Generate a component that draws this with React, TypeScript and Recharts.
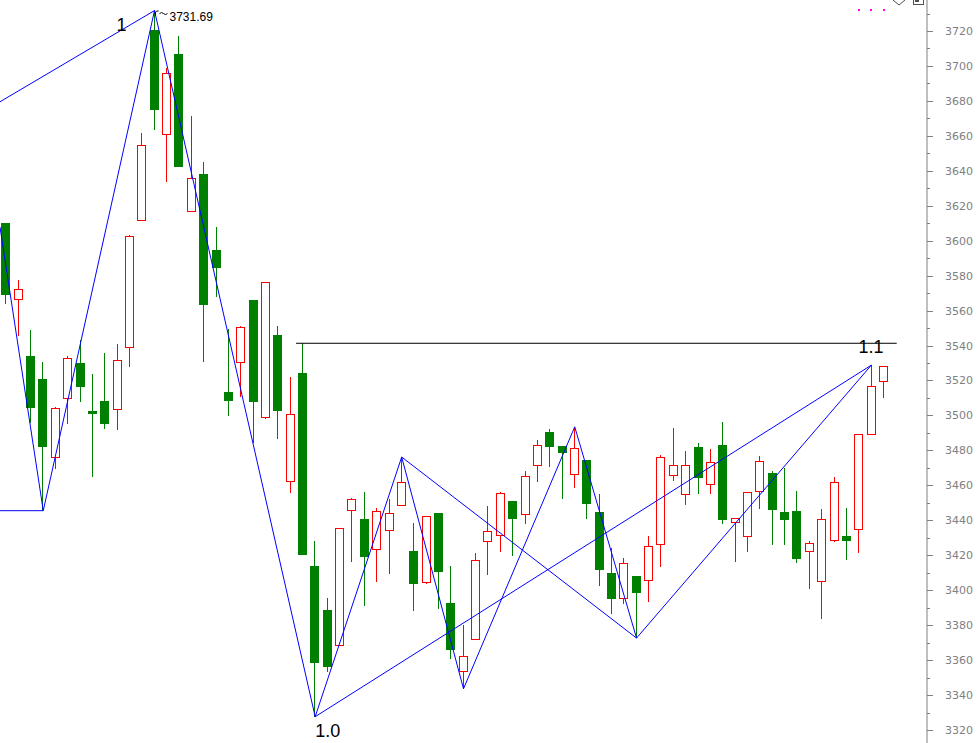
import React from "react";
import { ComposedChart, Bar, Line, Scatter, XAxis, YAxis, ReferenceDot } from "recharts";

// daily bars, oldest first
const opens = [
  3610.1, 3566.5, 3534.0, 3520.9, 3476.0, 3509.8, 3530.0, 3502.7, 3508.3, 3503.5,
  3539.0, 3611.7, 3720.6, 3660.9, 3706.8, 3616.8, 3638.2, 3594.7, 3513.4, 3530.4,
  3566.1, 3498.9, 3546.0, 3462.3, 3524.3, 3413.8, 3388.7, 3368.5, 3445.7, 3440.7,
  3423.4, 3434.3, 3448.6, 3422.4, 3404.5, 3444.2, 3392.5, 3353.6, 3371.9, 3428.0,
  3431.4, 3451.0, 3443.4, 3471.5, 3490.5, 3482.5, 3466.3, 3474.5, 3444.7, 3409.8,
  3395.4, 3408.1, 3405.7, 3426.3, 3465.8, 3454.9, 3481.9, 3460.6, 3483.1, 3438.9,
  3430.8, 3456.6, 3467.1, 3444.7, 3445.3, 3422.3, 3405.1, 3428.6, 3431.0, 3434.8,
  3489.2, 3519.5,
];
const highs = [
  3610.1, 3577.5, 3548.9, 3530.6, 3504.7, 3534.0, 3543.2, 3523.7, 3535.7, 3540.9,
  3603.0, 3661.6, 3731.69, 3698.7, 3717.1, 3671.4, 3645.0, 3607.7, 3549.3, 3551.2,
  3566.1, 3576.2, 3551.2, 3522.2, 3541.3, 3428.2, 3395.7, 3435.4, 3452.9, 3456.2,
  3446.9, 3452.0, 3476.2, 3438.3, 3442.3, 3444.2, 3413.8, 3380.3, 3421.1, 3448.2,
  3456.2, 3451.0, 3468.2, 3485.8, 3492.1, 3482.5, 3493.5, 3474.5, 3455.0, 3424.1,
  3418.4, 3408.1, 3431.0, 3477.2, 3492.8, 3479.7, 3484.2, 3480.8, 3496.3, 3441.6,
  3456.0, 3476.8, 3468.2, 3469.9, 3456.8, 3428.2, 3446.5, 3464.8, 3447.0, 3489.2,
  3528.8, 3528.1,
];
const lows = [
  3563.9, 3545.6, 3495.9, 3445.5, 3469.2, 3494.9, 3507.7, 3465.0, 3492.4, 3491.5,
  3527.9, 3611.7, 3663.5, 3633.8, 3642.3, 3616.8, 3530.8, 3568.0, 3499.7, 3510.7,
  3484.4, 3498.0, 3486.5, 3455.8, 3420.3, 3327.6, 3353.4, 3368.5, 3416.3, 3391.0,
  3404.9, 3409.4, 3448.6, 3388.3, 3403.4, 3389.1, 3360.8, 3343.6, 3371.9, 3408.9,
  3422.0, 3419.7, 3438.1, 3462.1, 3470.7, 3452.4, 3458.7, 3440.9, 3402.6, 3386.6,
  3392.1, 3372.6, 3393.1, 3413.4, 3462.7, 3448.9, 3455.2, 3455.2, 3437.7, 3416.3,
  3422.0, 3446.6, 3426.0, 3426.0, 3415.7, 3400.9, 3383.7, 3427.4, 3417.3, 3421.5,
  3489.2, 3510.2,
];
const closes = [
  3569.1, 3572.2, 3504.4, 3482.1, 3504.1, 3532.7, 3516.5, 3501.0, 3495.3, 3531.6,
  3602.5, 3654.6, 3675.0, 3695.8, 3642.3, 3635.7, 3563.4, 3584.5, 3508.4, 3550.4,
  3507.9, 3576.2, 3502.7, 3500.8, 3420.3, 3358.2, 3356.2, 3435.4, 3452.0, 3419.2,
  3445.1, 3444.0, 3461.7, 3403.7, 3442.3, 3410.4, 3366.0, 3362.2, 3417.3, 3433.7,
  3455.5, 3440.9, 3465.2, 3482.9, 3482.1, 3478.7, 3481.2, 3449.5, 3411.7, 3395.1,
  3415.4, 3398.2, 3425.3, 3476.1, 3471.5, 3471.5, 3464.4, 3473.2, 3440.3, 3441.1,
  3456.0, 3473.8, 3446.1, 3440.3, 3418.0, 3426.8, 3440.6, 3461.7, 3428.3, 3489.2,
  3516.7, 3528.1,
];

// zigzag pivots as [bar index, price]
const zigzagMain = [
  [-0.5, 3607.8], [3, 3445.5], [12, 3731.69], [25, 3327.6], [32, 3476.2],
  [37, 3343.6], [46, 3493.5], [51, 3372.6], [70, 3528.8],
];
const zigzagLeft = [[-0.5, 3679.5], [12, 3731.69]];
const zigzagFlat = [[-0.5, 3445.5], [3, 3445.5]];
const zigzagLong = [[25, 3327.6], [70, 3528.8]];
const zigzagCross = [[32, 3476.2], [51, 3372.6]];
const resistance = [[23.45, 3541.3], [72.05, 3541.3]];

const markerIdx = [69, 70, 71];
const markerPrice = 3732;

const priceLabels = [
  3320, 3340, 3360, 3380, 3400, 3420, 3440, 3460, 3480, 3500, 3520,
  3540, 3560, 3580, 3600, 3620, 3640, 3660, 3680, 3700, 3720,
];
const priceTicks = priceLabels.flatMap((v) => [v, v + 10]);

const RED = "#ff0000";
const GREEN = "#008000";
const BLUE = "#0000ff";
const GREY = "#808080";

const candles = opens.map((o, i) => ({
  i,
  o,
  h: highs[i],
  l: lows[i],
  c: closes[i],
  range: [lows[i], highs[i]],
}));

const toPts = (arr: number[][]) => arr.map(([i, v]) => ({ i, v }));
const markers = markerIdx.map((i) => ({ i, v: markerPrice }));

function Candle(props: any) {
  const { x, y, width, height, payload } = props;
  const { o, h, l, c } = payload;
  const k = height / (h - l);
  const py = (v: number) => Math.round(y + (h - v) * k);
  const left = Math.round(x + width / 2 - 4.5);
  const mid = left + 4.5;
  const top = py(Math.max(o, c));
  const bot = py(Math.min(o, c));
  const yh = py(h);
  const yl = py(l);
  if (c >= o) {
    return (
      <g shapeRendering="crispEdges">
        {yh < top && <line x1={mid} x2={mid} y1={yh} y2={top} stroke={RED} />}
        {yl > bot && <line x1={mid} x2={mid} y1={bot} y2={yl} stroke={RED} />}
        <rect x={left + 0.5} y={top + 0.5} width={8} height={Math.max(bot - top, 1)} fill="none" stroke={RED} />
      </g>
    );
  }
  return (
    <g shapeRendering="crispEdges">
      <line x1={mid} x2={mid} y1={yh} y2={yl} stroke={GREEN} />
      <rect x={left} y={top} width={9} height={Math.max(bot - top, 2)} fill={GREEN} />
    </g>
  );
}

function PriceTick(props: any) {
  const { x, y, payload } = props;
  const major = payload.value % 20 === 0;
  const yy = Math.round(y) + 0.5;
  return (
    <g>
      <line x1={x} x2={x + (major ? 6 : 3)} y1={yy} y2={yy} stroke={GREY} shapeRendering="crispEdges" />
      {major && (
        <text x={x + 18} y={y + 4} fontSize={11} fill={GREY} fontFamily="DejaVu Sans">
          {payload.value}
        </text>
      )}
    </g>
  );
}

const Marker = (props: any) => (
  <rect x={Math.round(props.cx) - 1} y={Math.round(props.cy) - 1} width={2} height={2} fill="#ff00ff" />
);

const pivotText = (text: string, dx: number, dy: number, size: number) => (p: any) => {
  const vb = p.viewBox;
  return (
    <text x={vb.x + 1 + dx} y={vb.y + 1 + dy} fontSize={size} fill="#000" fontFamily="Liberation Sans">
      {text}
    </text>
  );
};

const peakNote = (p: any) => {
  const x = p.viewBox.x + 1;
  const y = p.viewBox.y + 1;
  return (
    <g>
      <path d={`M${x + 1},${y + 5} L${x + 1},${y + 1.5} Q${x + 1.5},${y} ${x + 4},${y + 0.5}`} stroke="#000" fill="none" />
      <path d={`M${x + 5},${y + 3} Q${x + 7},${y + 1} ${x + 9},${y + 3} T${x + 13},${y + 3}`} stroke="#000" fill="none" />
      <text x={x + 15} y={y + 10.5} fontSize={12} fill="#000" fontFamily="Liberation Sans">
        3731.69
      </text>
    </g>
  );
};

export default function App() {
  return (
    <div style={{ position: "absolute", left: 0, top: 0, width: 979, height: 743, background: "#fff" }}>
      <ComposedChart width={979} height={743} data={candles} margin={{ top: 0, right: 0, bottom: 0, left: 0 }}>
        <XAxis dataKey="i" type="number" domain={[-0.5, 74.5]} allowDataOverflow hide />
        <YAxis
          orientation="right"
          width={52}
          type="number"
          domain={[3312.56, 3737.74]}
          allowDataOverflow
          ticks={priceTicks}
          interval={0}
          tickSize={0}
          tickMargin={0}
          tickLine={false}
          axisLine={{ stroke: GREY }}
          tick={<PriceTick />}
        />
        <Bar dataKey="range" barSize={9} shape={<Candle />} isAnimationActive={false} />
        <Line data={toPts(resistance)} dataKey="v" stroke="#000" strokeWidth={1} dot={false} isAnimationActive={false} />
        <Line data={toPts(zigzagMain)} dataKey="v" stroke={BLUE} strokeWidth={1} dot={false} isAnimationActive={false} />
        <Line data={toPts(zigzagLeft)} dataKey="v" stroke={BLUE} strokeWidth={1} dot={false} isAnimationActive={false} />
        <Line data={toPts(zigzagFlat)} dataKey="v" stroke={BLUE} strokeWidth={1} dot={false} isAnimationActive={false} />
        <Line data={toPts(zigzagLong)} dataKey="v" stroke={BLUE} strokeWidth={1} dot={false} isAnimationActive={false} />
        <Line data={toPts(zigzagCross)} dataKey="v" stroke={BLUE} strokeWidth={1} dot={false} isAnimationActive={false} />
        <Scatter data={markers} dataKey="v" shape={<Marker />} isAnimationActive={false} />
        <ReferenceDot x={12} y={3731.69} r={1} fill="none" stroke="none" label={{ content: pivotText("1", -38, 20, 18) }} />
        <ReferenceDot x={12} y={3731.69} r={1} fill="none" stroke="none" label={{ content: peakNote }} />
        <ReferenceDot x={25} y={3327.6} r={1} fill="none" stroke="none" label={{ content: pivotText("1.0", 0, 20, 18) }} />
        <ReferenceDot x={70} y={3528.8} r={1} fill="none" stroke="none" label={{ content: pivotText("1.1", -13, -12, 18) }} />
      </ComposedChart>
      <svg width={979} height={10} style={{ position: "absolute", left: 0, top: 0 }}>
        <path d="M893,0 L899,5 L905,0" stroke="#505050" fill="none" />
        <rect x={913.5} y={-5.5} width={10} height={10} stroke="#505050" fill="#fff" />
        <rect x={915} y={-1} width={4} height={3} fill="#505050" />
      </svg>
    </div>
  );
}
